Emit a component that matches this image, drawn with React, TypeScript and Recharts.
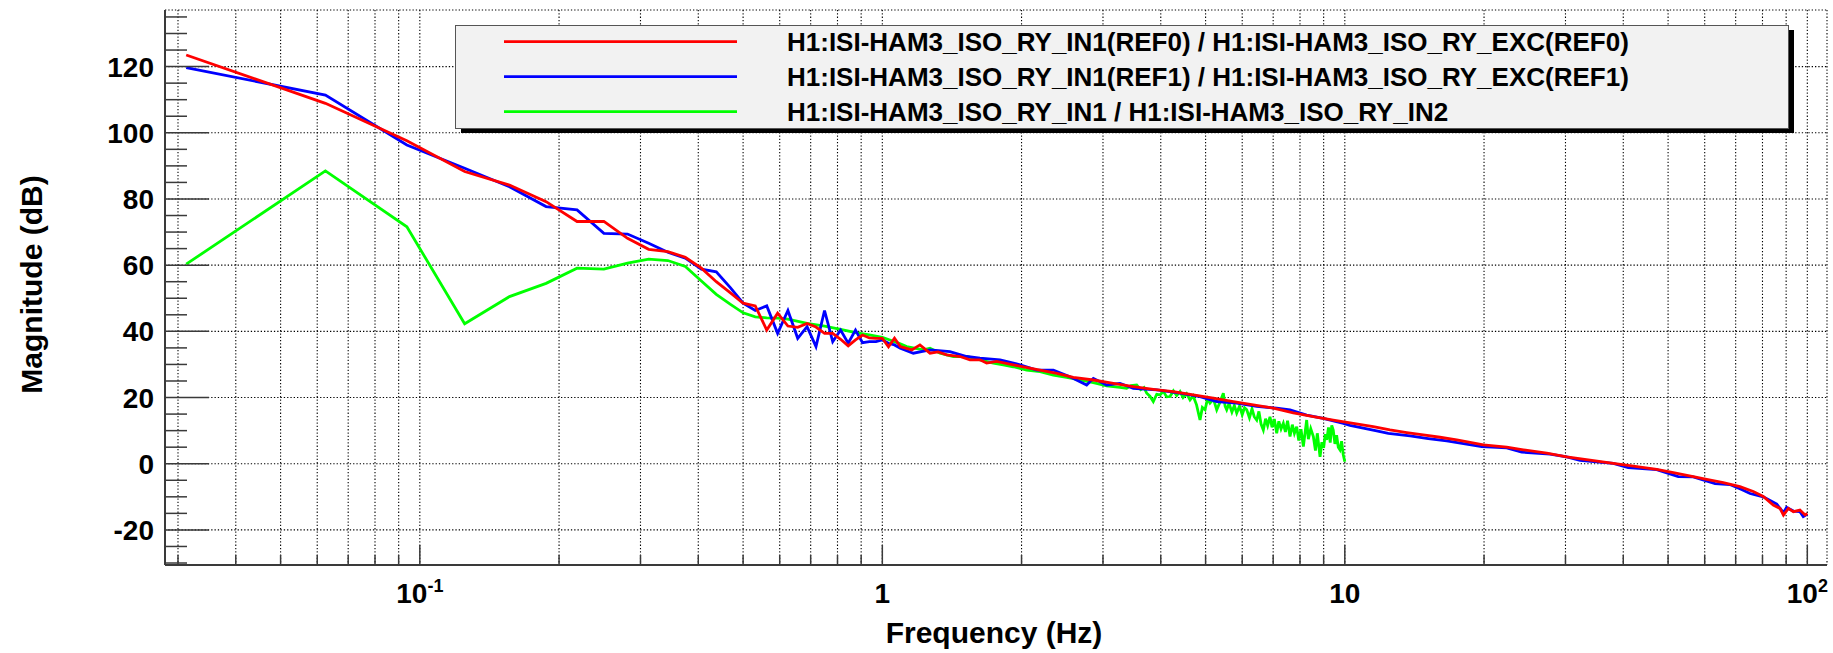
import React from "react";
import { CartesianGrid, Label, Legend, Line, LineChart, XAxis, YAxis } from "recharts";

// REF0 transfer function (red): 1/32 Hz bins at the low end, sampled above ~1.1 Hz
const ref0Freq = [
  0.03125, 0.0625, 0.09375, 0.125, 0.15625, 0.1875, 0.21875, 0.25, 0.28125, 0.3125,
  0.34375, 0.375, 0.40625, 0.4375, 0.46875, 0.5, 0.53125, 0.5625, 0.59375, 0.625,
  0.65625, 0.6875, 0.71875, 0.75, 0.78125, 0.8125, 0.84375, 0.875, 0.90625, 0.9375,
  0.96875, 1.0, 1.03125, 1.0625, 1.09375,
  1.158, 1.206, 1.268, 1.32, 1.378, 1.472, 1.547, 1.626, 1.681, 1.767,
  1.92, 2.018, 2.193, 2.384, 2.588, 2.859, 3.159, 3.489, 3.854, 4.258,
  4.703, 5.196, 5.74, 6.341, 7.005, 7.737, 8.55, 9.44, 10.43, 11.52,
  12.52, 13.61, 14.78, 16.06, 17.46, 19.93, 22.39, 24.32, 27.33, 30.19,
  33.9, 38.07, 42.06, 47.25, 51.32, 56.67, 60.6, 65.8, 71.5, 76.4,
  80.3, 84.4, 87.3, 88.8, 91.0, 93.3, 96.4, 98.9, 100,
];
const ref0Mag = [
  123.5, 108.9, 97.6, 88.3, 84.2, 79.2, 73.2, 73.2, 68.1, 64.8,
  64.1, 62.4, 59.1, 55.0, 51.7, 48.5, 47.7, 40.4, 45.5, 41.6,
  41.2, 42.4, 41.3, 39.4, 39.4, 37.6, 35.6, 37.4, 38.9, 38.0,
  37.9, 37.9, 35.3, 37.9, 35.4,
  34.4, 35.9, 33.4, 33.8, 32.9, 32.4, 31.4, 31.4, 30.4, 30.9,
  29.9, 29.3, 28.3, 27.3, 26.1, 25.3, 24.3, 23.3, 22.5, 21.8,
  20.8, 19.8, 18.8, 17.8, 16.8, 15.4, 14.2, 13.2, 12.2, 11.2,
  10.2, 9.4, 8.7, 8.0, 7.2, 5.7, 5.0, 4.2, 3.2, 2.1,
  1.1, 0.1, -0.7, -1.7, -2.7, -3.9, -4.7, -5.7, -6.9, -8.4,
  -9.9, -12.5, -13.5, -15.5, -13.5, -14.5, -14.0, -15.5, -15.0,
];

// REF1 transfer function (blue)
const ref1Freq = [
  0.03125, 0.0625, 0.09375, 0.125, 0.15625, 0.1875, 0.21875, 0.25, 0.28125, 0.3125,
  0.34375, 0.375, 0.40625, 0.4375, 0.46875, 0.5, 0.53125, 0.5625, 0.59375, 0.625,
  0.65625, 0.6875, 0.71875, 0.75, 0.78125, 0.8125, 0.84375, 0.875, 0.90625, 0.9375,
  0.96875, 1.0, 1.03125, 1.0625, 1.09375,
  1.167, 1.268, 1.4, 1.522, 1.626, 1.797, 1.985, 2.157, 2.343, 2.545,
  2.766, 2.859, 3.056, 3.265, 3.489, 3.92, 4.403, 4.863, 5.285, 5.838,
  6.449, 7.124, 7.612, 8.27, 8.98, 9.93, 10.26, 11.72, 12.42, 13.84,
  15.15, 16.61, 19.77, 22.39, 24.13, 27.78, 30.19, 32.26, 38.07, 41.0,
  47.25, 52.6, 56.67, 63.2, 68.0, 72.1, 75.2, 80.3, 85.9, 88.8,
  90.2, 93.3, 96.4, 98.0, 100,
];
const ref1Mag = [
  119.7, 111.4, 96.3, 89.3, 83.7, 77.7, 76.7, 69.6, 69.4, 66.6,
  63.9, 62.1, 58.8, 58.0, 53.3, 48.5, 46.3, 47.7, 39.4, 46.3,
  37.9, 41.4, 35.4, 46.3, 36.9, 40.4, 36.4, 40.4, 36.6, 36.9,
  36.9, 37.4, 36.4, 35.9, 34.9,
  33.4, 34.4, 33.9, 32.4, 31.9, 31.4, 29.9, 28.3, 28.3, 26.3,
  23.8, 25.8, 23.8, 24.3, 22.8, 22.3, 21.3, 20.3, 18.8, 18.3,
  17.3, 16.8, 16.3, 14.7, 13.7, 12.2, 11.6, 9.9, 9.2, 8.4,
  7.6, 6.9, 5.2, 4.8, 3.5, 2.9, 2.1, 1.0, 0.1, -1.2,
  -1.8, -3.9, -4.0, -6.0, -6.3, -7.8, -9.0, -10.0, -12.2, -14.8,
  -13.2, -14.3, -14.5, -16.0, -15.2,
];

// live IN1 / IN2 measurement (green), stops at 10 Hz
const liveFreq = [
  0.03125, 0.0625, 0.09375, 0.125, 0.15625, 0.1875, 0.21875, 0.25, 0.28125, 0.3125,
  0.34375, 0.375, 0.40625, 0.4375, 0.46875, 0.5, 0.53125, 0.5625, 0.59375, 0.625,
  0.6875, 0.75, 0.8125, 0.875, 0.9375, 1.0, 1.09375,
  1.129, 1.226, 1.268, 1.333, 1.424, 1.522, 1.626, 1.738, 1.826, 1.92,
  2.052, 2.193, 2.343, 2.504, 2.676, 2.859, 3.056, 3.265, 3.375, 3.45,
  3.548, 3.62, 3.68, 3.73, 3.79, 3.854, 3.92, 3.985, 4.05, 4.12,
  4.188, 4.26, 4.33, 4.403, 4.47, 4.55, 4.627, 4.7, 4.78, 4.863,
  4.92, 4.986, 5.05, 5.111, 5.2, 5.285, 5.37, 5.462, 5.51, 5.554,
  5.62, 5.7, 5.77, 5.838, 5.92, 6.0, 6.07, 6.137, 6.22, 6.3,
  6.37, 6.449, 6.52, 6.59, 6.665, 6.74, 6.81, 6.89, 6.96, 7.04,
  7.124, 7.2, 7.28, 7.362, 7.44, 7.52, 7.612, 7.7, 7.78, 7.87,
  7.95, 8.04, 8.135, 8.2, 8.27, 8.34, 8.44, 8.55, 8.64, 8.72,
  8.84, 8.92, 9.0, 9.07, 9.14, 9.22, 9.3, 9.37, 9.44, 9.52,
  9.6, 9.68, 9.76, 9.84, 9.92, 10.0,
];
const liveMag = [
  60.3, 88.5, 71.6, 42.3, 50.5, 54.5, 59.1, 58.8, 60.6, 61.8,
  61.4, 59.6, 55.2, 51.2, 48.2, 45.6, 44.4, 44.1, 44.0, 43.7,
  42.4, 41.6, 40.6, 39.6, 38.9, 38.2, 36.2,
  35.4, 34.4, 34.9, 33.4, 32.4, 32.4, 31.4, 30.4, 29.9, 29.3,
  28.3, 27.8, 26.8, 26.1, 25.3, 24.5, 23.5, 23.1, 22.8, 23.6,
  23.8, 22.4, 23.0, 21.3, 20.4, 18.8, 21.0, 20.8, 21.9, 20.2,
  20.3, 22.0, 20.6, 21.8, 20.0, 21.2, 19.3, 20.5, 17.8, 13.2,
  17.0, 16.3, 19.6, 18.3, 19.5, 16.3, 18.6, 21.3, 17.4, 16.3,
  18.2, 15.6, 17.6, 15.3, 17.4, 14.8, 16.9, 16.3, 13.9, 16.6,
  14.2, 13.2, 15.8, 12.0, 10.2, 13.6, 11.5, 14.2, 11.0, 13.5,
  9.2, 12.8, 10.5, 12.2, 9.6, 13.0, 8.2, 11.8, 9.2, 11.2,
  7.0, 10.4, 5.2, 9.0, 13.2, 7.4, 10.6, 8.2, 4.0, 9.2,
  2.1, 6.5, 4.8, 8.9, 7.2, 11.0, 6.4, 11.6, 10.2, 6.0,
  8.6, 5.0, 4.2, 6.8, 2.8, 0.6,
];

const seriesNames = [
  "H1:ISI-HAM3_ISO_RY_IN1(REF0) / H1:ISI-HAM3_ISO_RY_EXC(REF0)",
  "H1:ISI-HAM3_ISO_RY_IN1(REF1) / H1:ISI-HAM3_ISO_RY_EXC(REF1)",
  "H1:ISI-HAM3_ISO_RY_IN1 / H1:ISI-HAM3_ISO_RY_IN2",
];
const seriesColors = ["#ff0000", "#0000ff", "#00ff00"];

const xMajor = [0.1, 1, 10, 100];
const xMinor = [
  0.03, 0.04, 0.05, 0.06, 0.07, 0.08, 0.09,
  0.2, 0.3, 0.4, 0.5, 0.6, 0.7, 0.8, 0.9,
  2, 3, 4, 5, 6, 7, 8, 9,
  20, 30, 40, 50, 60, 70, 80, 90,
];
const xBase = ["10", "1", "10", "10"];
const xExp = ["-1", "", "", "2"];

const yMajor = [-20, 0, 20, 40, 60, 80, 100, 120];
const yMinor = [-30, -25, -15, -10, -5, 5, 10, 15, 25, 30, 35, 45, 50, 55, 65, 70, 75, 85, 90, 95, 105, 110, 115, 125, 130, 135];

const xDomain = [0.02812, 110.3];
const yDomain = [-30.6, 137.1];
const xTicks = [...xMinor, ...xMajor].sort((a, b) => a - b);
const yTicks = [...yMinor, ...yMajor].sort((a, b) => a - b);

const FONT = "'Liberation Sans', Arial, Helvetica, sans-serif";
const FRAME = "#3a3a3a";

const zip = (fs: number[], ms: number[]) => fs.map((f, i) => ({ f, db: ms[i] }));
const ref0Data = zip(ref0Freq, ref0Mag);
const ref1Data = zip(ref1Freq, ref1Mag);
const liveData = zip(liveFreq, liveMag);

const BottomTick = (p: any) => {
  const v = p.payload.value;
  const mi = xMajor.indexOf(v);
  const major = mi >= 0;
  return (
    <g>
      <line x1={p.x} x2={p.x} y1={p.y} y2={p.y - (major ? 20 : 10)} stroke={FRAME} strokeWidth={1.5} />
      {major && (
        <text x={p.x} y={p.y + 38} textAnchor="middle" fontFamily={FONT} fontWeight="bold" fontSize={28} fill="#000">
          {xBase[mi]}
          {xExp[mi] && (
            <tspan dy={-11} fontSize={18}>
              {xExp[mi]}
            </tspan>
          )}
        </text>
      )}
    </g>
  );
};

const TopTick = (p: any) => {
  const major = xMajor.includes(p.payload.value);
  return <line x1={p.x} x2={p.x} y1={p.y} y2={p.y + (major ? 20 : 14)} stroke={FRAME} strokeWidth={1.5} />;
};

const LeftTick = (p: any) => {
  const v = p.payload.value;
  const major = yMajor.includes(v);
  return (
    <g>
      <line x1={p.x} x2={p.x + (major ? 44 : 22)} y1={p.y} y2={p.y} stroke={FRAME} strokeWidth={1.5} />
      {major && (
        <text x={p.x - 11} y={p.y} dy="0.36em" textAnchor="end" fontFamily={FONT} fontWeight="bold" fontSize={28} fill="#000">
          {v}
        </text>
      )}
    </g>
  );
};

const RightTick = (p: any) => {
  const major = yMajor.includes(p.payload.value);
  return <line x1={p.x} x2={p.x - (major ? 44 : 20)} y1={p.y} y2={p.y} stroke={FRAME} strokeWidth={1.5} />;
};

const YTitle = (p: any) => {
  const vb = p.viewBox ?? { x: 0, y: 10, width: 165, height: 555 };
  const cx = vb.x + 31;
  const cy = vb.y + vb.height / 2 - 3;
  return (
    <text x={cx} y={cy} dy="0.35em" transform={`rotate(-90 ${cx} ${cy})`} textAnchor="middle" fontFamily={FONT} fontWeight="bold" fontSize={30} fill="#000">
      Magnitude (dB)
    </text>
  );
};

const XTitle = (p: any) => {
  const vb = p.viewBox ?? { x: 165, y: 565, width: 1662, height: 88 };
  return (
    <text x={vb.x + vb.width / 2 - 2} y={vb.y + 78} textAnchor="middle" fontFamily={FONT} fontWeight="bold" fontSize={30} fill="#000">
      Frequency (Hz)
    </text>
  );
};

const LegendBox = (p: any) => {
  const items = [...(p.payload ?? [])].sort((a: any, b: any) => seriesNames.indexOf(a.value) - seriesNames.indexOf(b.value));
  return (
    <svg width={1345} height={112} style={{ display: "block" }}>
      <rect x={6} y={5} width={1333} height={103} fill="#000" />
      <rect x={0.5} y={0.5} width={1333} height={103} fill="#f2f2f2" stroke="#555" />
      {items.map((it: any, i: number) => {
        const cy = 16.7 + i * 35;
        return (
          <g key={it.value}>
            <line x1={49} x2={282} y1={cy} y2={cy} stroke={it.color} strokeWidth={2.8} />
            <text x={332} y={cy} dy="0.36em" fontFamily={FONT} fontWeight="bold" fontSize={26} fill="#000">
              {it.value}
            </text>
          </g>
        );
      })}
    </svg>
  );
};

export default function App() {
  return (
    <div style={{ position: "absolute", left: 0, top: 0, width: 1833, height: 653, background: "#fff" }}>
      <LineChart width={1833} height={653} margin={{ top: 10, right: 6, bottom: 0, left: 0 }}>
        <CartesianGrid xAxisId="bottom" yAxisId="grid" stroke="#000" strokeWidth={1.1} strokeDasharray="1.3 2" />
        <XAxis
          xAxisId="bottom"
          dataKey="f"
          type="number"
          scale="log"
          domain={xDomain}
          allowDataOverflow
          ticks={xTicks}
          interval={0}
          height={88}
          tickSize={0}
          tickMargin={0}
          tickLine={false}
          axisLine={{ stroke: FRAME, strokeWidth: 2 }}
          tick={BottomTick}
        >
          <Label content={XTitle} />
        </XAxis>
        <XAxis
          xAxisId="top"
          orientation="top"
          dataKey="f"
          type="number"
          scale="log"
          domain={xDomain}
          allowDataOverflow
          ticks={xTicks}
          interval={0}
          height={0}
          tickSize={0}
          tickMargin={0}
          tickLine={false}
          axisLine={{ stroke: FRAME, strokeWidth: 2 }}
          tick={TopTick}
        />
        <YAxis
          yAxisId="left"
          type="number"
          domain={yDomain}
          allowDataOverflow
          ticks={yTicks}
          interval={0}
          width={165}
          tickSize={0}
          tickMargin={0}
          tickLine={false}
          axisLine={{ stroke: FRAME, strokeWidth: 2 }}
          tick={LeftTick}
        >
          <Label content={YTitle} />
        </YAxis>
        <YAxis
          yAxisId="right"
          orientation="right"
          type="number"
          domain={yDomain}
          allowDataOverflow
          ticks={yTicks}
          interval={0}
          width={0}
          tickSize={0}
          tickMargin={0}
          tickLine={false}
          axisLine={{ stroke: FRAME, strokeWidth: 2 }}
          tick={RightTick}
        />
        <YAxis yAxisId="grid" orientation="right" hide width={0} type="number" domain={yDomain} allowDataOverflow ticks={yMajor} interval={0} />
        <Legend
          layout="horizontal"
          verticalAlign="middle"
          align="center"
          wrapperStyle={{ left: 455, top: 25, width: 1345, height: 112 }}
          content={LegendBox}
        />
        <Line
          xAxisId="bottom"
          yAxisId="left"
          data={liveData}
          dataKey="db"
          name={seriesNames[2]}
          stroke={seriesColors[2]}
          strokeWidth={2.8}
          dot={false}
          type="linear"
          isAnimationActive={false}
        />
        <Line
          xAxisId="bottom"
          yAxisId="left"
          data={ref1Data}
          dataKey="db"
          name={seriesNames[1]}
          stroke={seriesColors[1]}
          strokeWidth={2.8}
          dot={false}
          type="linear"
          isAnimationActive={false}
        />
        <Line
          xAxisId="bottom"
          yAxisId="left"
          data={ref0Data}
          dataKey="db"
          name={seriesNames[0]}
          stroke={seriesColors[0]}
          strokeWidth={2.8}
          dot={false}
          type="linear"
          isAnimationActive={false}
        />
      </LineChart>
    </div>
  );
}
